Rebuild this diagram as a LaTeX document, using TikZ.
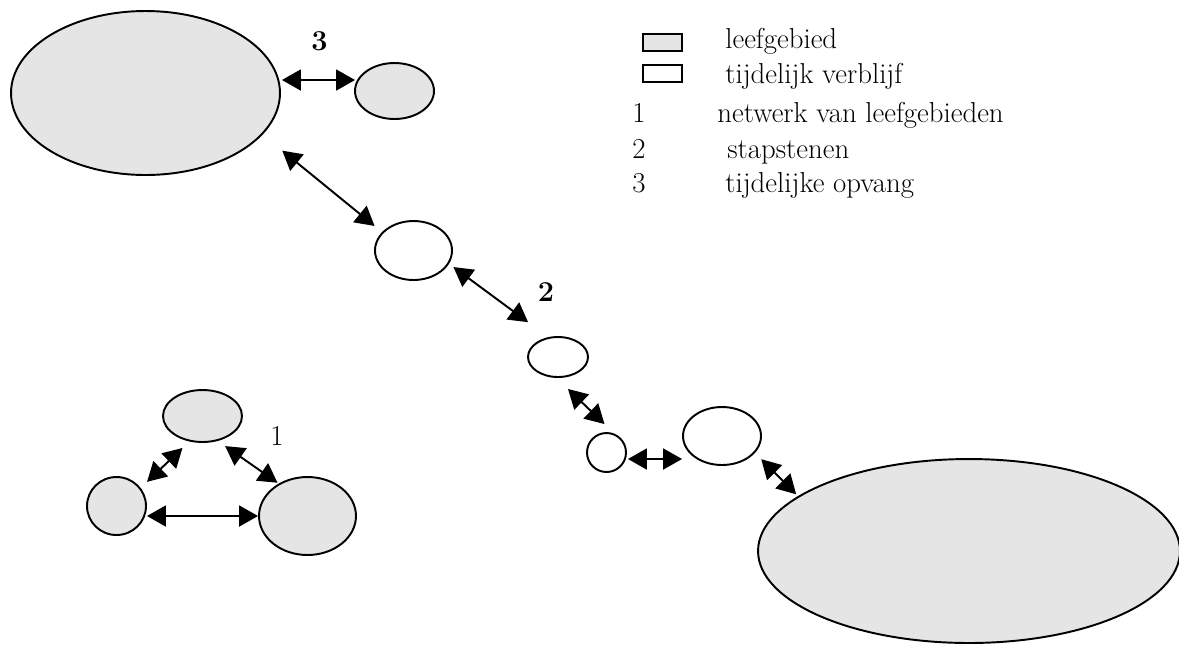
\documentclass[tikz,border=0pt]{standalone}
\usetikzlibrary{positioning,arrows.meta,shapes.geometric}

\begin{document}
\begin{tikzpicture}[
        x=0.02cm, y=-0.02cm,
        leef/.style={ellipse, draw, line width=1.1pt, fill=gray!20, inner sep=0pt},
        verblijf/.style={ellipse, draw, line width=1.1pt, fill=white, inner sep=0pt},
        link/.style={{Triangle[length=0.38cm,width=0.42cm]}-{Triangle[length=0.38cm,width=0.42cm]}, line width=1.1pt},
        legbox/.style={rectangle, draw, line width=1.1pt, minimum width=0.78cm, minimum height=0.34cm, inner sep=0pt},
        legtext/.style={anchor=base west, inner sep=0pt, font=\fontsize{16.4}{20}\selectfont},
        num/.style={inner sep=0pt, font=\fontsize{16.4}{20}\selectfont\bfseries}
    ]
        \useasboundingbox (0,0) rectangle (1179,647);

        % leefgebieden en tijdelijke verblijfplaatsen
        \node[leef, minimum width=5.38cm, minimum height=3.28cm] (lg1) at (145.5,93) {};
        \node[leef, minimum width=1.58cm, minimum height=1.12cm] (lg2) at (394.5,91) {};
        \node[verblijf, minimum width=1.54cm, minimum height=1.18cm] (st1) at (413.5,250.5) {};
        \node[verblijf, minimum width=1.2cm, minimum height=0.8cm] (st2) at (558,357) {};
        \node[verblijf, minimum width=0.78cm, minimum height=0.78cm] (st3) at (606.5,452.5) {};
        \node[verblijf, minimum width=1.56cm, minimum height=1.16cm] (st4) at (722,436) {};
        \node[leef, minimum width=8.44cm, minimum height=3.68cm] (lg3) at (969,551) {};
        \node[leef, minimum width=1.58cm, minimum height=1.04cm] (nw1) at (202.5,416) {};
        \node[leef, minimum width=1.18cm, minimum height=1.16cm] (nw2) at (116.5,506) {};
        \node[leef, minimum width=1.94cm, minimum height=1.56cm] (nw3) at (307.5,516) {};

        \draw[link] ([shift={(1,-13)}]lg1.east) -- ([shift={(1,-11)}]lg2.west);
        \draw[link] ([shift={(41,-1)}]lg1.south east) -- ([shift={(-11,-3)}]st1.north west);
        \draw[link] ([shift={(12,-5)}]st1.south east) -- ([shift={(-8,-20)}]st2.north west);
        \draw[link] ([shift={(10,11)}]st2.south) -- ([shift={(-2,-8)}]st3.north);
        \draw[link] ([shift={(1,6.5)}]st3.east) -- ([shift={(0,23)}]st4.west);
        \draw[link] ([shift={(11,2)}]st4.south east) -- ([shift={(-23,9)}]lg3.north west);
        \draw[link] ([shift={(9,-3)}]nw2.north east) -- ([shift={(-20,5)}]nw1.south);
        \draw[link] ([shift={(-6,11)}]nw1.south east) -- ([shift={(5,-5)}]nw3.north west);
        \draw[link] (nw2.east |- nw3.west) -- (nw3.west);

        \node[num] (n3) at (319.5,41) {3};
        \node[num] (n2) at (546,292) {2};
        \node[num, font=\fontsize{16.4}{20}\selectfont] (n1) at (277,436) {1};

        % legenda
        \node[legbox, fill=gray!20] (legLeef) at (662.5,42.5) {};
        \node[legbox] (legVerblijf) at (662.5,73.5) {};
        \node[legtext] at (725,48) {leefgebied};
        \node[legtext] at (725,83) {tijdelijk verblijf};
        \node[legtext] at (632,122) {1};
        \node[legtext] at (717,122) {netwerk van leefgebieden};
        \node[legtext] at (632,158) {2};
        \node[legtext] at (727,158) {stapstenen};
        \node[legtext] at (632,192) {3};
        \node[legtext] at (725,192) {tijdelijke opvang};
    \end{tikzpicture}
\end{document}
